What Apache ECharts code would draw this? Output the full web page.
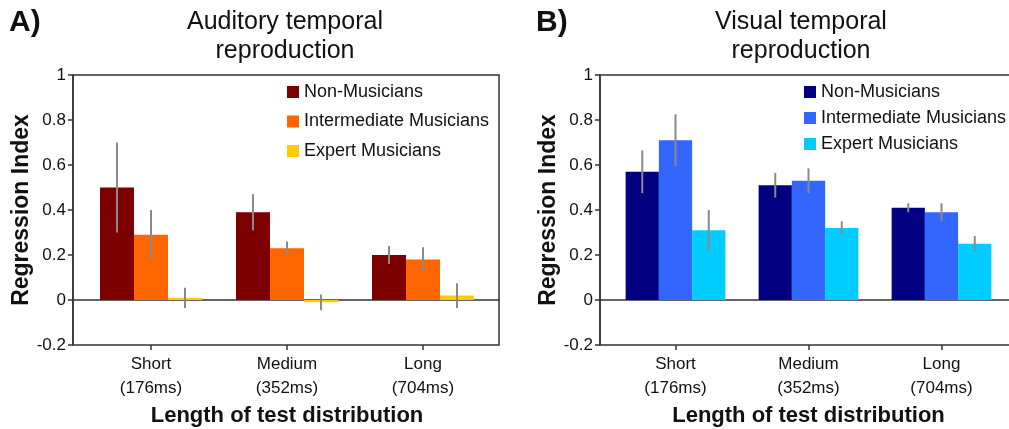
<!DOCTYPE html>
<html>
<head>
<meta charset="utf-8">
<script src="https://cdn.jsdelivr.net/npm/echarts@6/dist/echarts.min.js"></script>
<style>
html,body{margin:0;padding:0;background:#fff;}
#chart{width:1009px;height:429px;}
</style>
</head>
<body>
<div id="chart"></div>
<script>
// ---- data ----
const categories = ['Short\n(176ms)', 'Medium\n(352ms)', 'Long\n(704ms)'];
const groups = ['Non-Musicians', 'Intermediate Musicians', 'Expert Musicians'];
const yMin = -0.2, yMax = 1, yInterval = 0.2;

// A) Auditory temporal reproduction
const audNon = [0.50, 0.39, 0.20];
const audNonErr = [0.20, 0.08, 0.04];
const audInt = [0.29, 0.23, 0.18];
const audIntErr = [0.11, 0.03, 0.055];
const audExp = [0.01, -0.01, 0.02];
const audExpErr = [0.045, 0.035, 0.055];

// B) Visual temporal reproduction
const visNon = [0.57, 0.51, 0.41];
const visNonErr = [0.095, 0.055, 0.02];
const visInt = [0.71, 0.53, 0.39];
const visIntErr = [0.115, 0.055, 0.04];
const visExp = [0.31, 0.32, 0.25];
const visExpErr = [0.09, 0.03, 0.035];

const audColors = ['#7d0000', '#ff6600', '#ffcc00'];
const visColors = ['#000080', '#3366ff', '#00ccff'];

// ---- chart ----
const FONT = '"Liberation Sans", Arial, sans-serif';
const AXIS_COLOR = '#333';
const chart = echarts.init(document.getElementById('chart'), null, {renderer: 'canvas'});

const panels = [
  {prefix: 'A:', vals: [audNon, audInt, audExp], errs: [audNonErr, audIntErr, audExpErr], colors: audColors,
   frame: {left: 73, top: 75, width: 426, height: 270}, bars: {left: 83, top: 75, width: 408, height: 270},
   legend: {left: 287, top: 83, itemGap: 11.5}},
  {prefix: 'B:', vals: [visNon, visInt, visExp], errs: [visNonErr, visIntErr, visExpErr], colors: visColors,
   frame: {left: 600, top: 75, width: 430, height: 270}, bars: {left: 609, top: 75, width: 399, height: 270},
   legend: {left: 804, top: 83, itemGap: 8}}
];

const grid = [], xAxis = [], yAxis = [], series = [], legend = [];
panels.forEach((p, pi) => {
  const fg = grid.length;
  grid.push(Object.assign({show: true, borderColor: AXIS_COLOR, borderWidth: 1.5, backgroundColor: 'transparent',
    containLabel: false, outerBoundsMode: 'none'}, p.frame));
  grid.push(Object.assign({show: false, containLabel: false, outerBoundsMode: 'none'}, p.bars));
  const bg = fg + 1;
  // frame axes
  xAxis.push({gridIndex: fg, type: 'value', min: 0, max: 1, axisLine: {show: true, onZero: true, lineStyle: {color: AXIS_COLOR, width: 1.5}},
    axisTick: {show: false}, axisLabel: {show: false}, splitLine: {show: false}});
  yAxis.push({gridIndex: fg, type: 'value', min: yMin, max: yMax, interval: yInterval,
    axisLine: {show: true, onZero: false, lineStyle: {color: AXIS_COLOR, width: 1.5}},
    axisTick: {show: true, inside: false, length: 5, lineStyle: {color: AXIS_COLOR, width: 1.5}},
    axisLabel: {color: '#111', fontSize: 17, fontFamily: FONT, margin: 7},
    splitLine: {show: false},
    name: 'Regression Index', nameLocation: 'middle', nameGap: 40,
    nameTextStyle: {color: '#111', fontSize: 23, fontWeight: 'bold', fontFamily: FONT}});
  // bar axes
  xAxis.push({gridIndex: bg, type: 'category', data: categories,
    axisLine: {show: false, onZero: false}, axisTick: {show: true, alignWithLabel: true, length: 5, lineStyle: {color: AXIS_COLOR, width: 1.5}},
    axisLabel: {color: '#111', fontSize: 17, lineHeight: 24, fontFamily: FONT, margin: 7},
    name: 'Length of test distribution', nameLocation: 'middle', nameGap: 56,
    nameTextStyle: {color: '#111', fontSize: 22, fontWeight: 'bold', fontFamily: FONT}});
  yAxis.push({gridIndex: bg, type: 'value', min: yMin, max: yMax, interval: yInterval, show: false});
  const xi = xAxis.length - 1, yi = yAxis.length - 1;
  groups.forEach((g, gi) => {
    series.push({name: p.prefix + g, type: 'bar', xAxisIndex: xi, yAxisIndex: yi,
      data: p.vals[gi], barCategoryGap: '25%', barGap: '0%',
      itemStyle: {color: p.colors[gi]}, emphasis: {disabled: true}, animation: false});
  });
  groups.forEach((g, gi) => {
    series.push({name: p.prefix + 'err' + gi, type: 'custom', xAxisIndex: xi, yAxisIndex: yi, z: 5,
      data: p.vals[gi].map((v, ci) => [ci, v, p.errs[gi][ci]]),
      renderItem: (params, api) => {
        const ci = api.value(0), v = api.value(1), e = api.value(2);
        const band = api.size([1, 0])[0];
        const bw = band * 0.75 / 3;
        const off = (gi - 1) * bw;
        const hi = api.coord([ci, v + e]);
        const lo = api.coord([ci, v - e]);
        return {type: 'line', shape: {x1: hi[0] + off, y1: hi[1], x2: lo[0] + off, y2: lo[1]},
          style: {stroke: '#8a8a8a', lineWidth: 2}};
      }, animation: false, silent: true});
  });
  legend.push({orient: 'vertical', left: p.legend.left, top: p.legend.top, itemGap: p.legend.itemGap, padding: 0,
    itemWidth: 12, itemHeight: 12, icon: 'rect', itemStyle: {borderWidth: 0},
    data: groups.map(g => p.prefix + g),
    formatter: n => n.slice(2),
    textStyle: {color: '#111', fontSize: 18, fontFamily: FONT, padding: [0, 0, 0, 0]},
    selectedMode: false});
});

const option = {
  animation: false,
  backgroundColor: '#fff',
  grid, xAxis, yAxis, series, legend,
  graphic: [
    {type: 'text', left: 9, top: 8, style: {text: 'A)', font: 'bold 30px ' + FONT, fill: '#111'}},
    {type: 'text', left: 536, top: 8, style: {text: 'B)', font: 'bold 30px ' + FONT, fill: '#111'}},
    {type: 'text', x: 285, y: 8, style: {text: 'Auditory temporal\nreproduction', font: '25px ' + FONT, fill: '#111',
      textAlign: 'center', textVerticalAlign: 'top', lineHeight: 29}},
    {type: 'text', x: 801, y: 8, style: {text: 'Visual temporal\nreproduction', font: '25px ' + FONT, fill: '#111',
      textAlign: 'center', textVerticalAlign: 'top', lineHeight: 29}}
  ]
};
chart.setOption(option);
</script>
</body>
</html>
